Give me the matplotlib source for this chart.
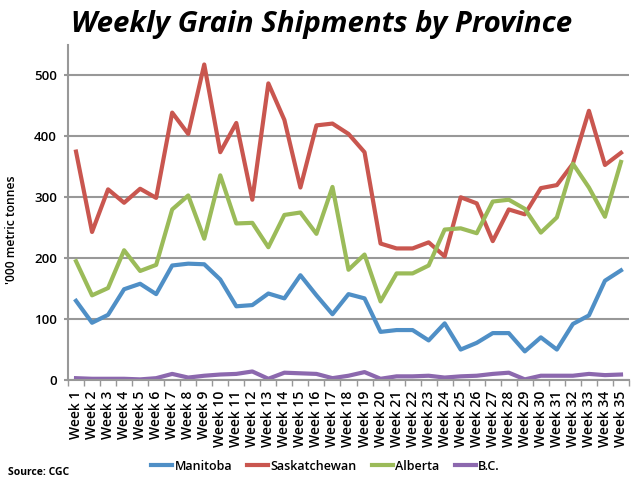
import pandas as pd
import matplotlib.pyplot as plt

plt.rcParams["font.family"] = "Open Sans"

rows = {
    "Manitoba": [130, 94, 107, 149, 158, 141, 188, 191, 190, 165, 121, 123, 142, 134, 172, 139, 108, 141, 134, 79,
                 82, 82, 65, 93, 50, 61, 77, 77, 47, 70, 50, 92, 106, 163, 180],
    "Saskatchewan": [375, 243, 313, 291, 314, 299, 439, 404, 518, 374, 422, 296, 487, 427, 316, 418, 421, 404, 374, 224,
                     216, 216, 226, 203, 300, 290, 228, 280, 272, 315, 320, 355, 442, 353, 373],
    "Alberta": [195, 139, 151, 213, 179, 189, 280, 303, 232, 336, 257, 258, 218, 271, 275, 240, 317, 181, 206, 129,
                175, 175, 188, 247, 249, 241, 293, 296, 281, 242, 267, 355, 316, 268, 358],
    "B.C.": [3, 2, 2, 2, 1, 3, 10, 4, 7, 9, 10, 14, 2, 12, 11, 10, 3, 7, 13, 2,
             6, 6, 7, 4, 6, 7, 10, 12, 1, 7, 7, 7, 10, 8, 9],
}

df = pd.DataFrame(rows)
df["Week"] = ["Week " + str(i + 1) for i in range(len(df))]

plt.figure(figsize=(6.4, 4.8), dpi=100)
plt.axes([68 / 640, 100 / 480, 561 / 640, 335 / 480])
plt.plot(df["Week"], df["Manitoba"], color="#4f8fc6", linewidth=3, label="Manitoba")
plt.plot(df["Week"], df["Saskatchewan"], color="#c9564f", linewidth=3, label="Saskatchewan")
plt.plot(df["Week"], df["Alberta"], color="#9bbb59", linewidth=3, label="Alberta")
plt.plot(df["Week"], df["B.C."], color="#8c68ae", linewidth=3, label="B.C.")

plt.xlim(-0.5, 34.5)
plt.ylim(0, 550)
plt.yticks([0, 100, 200, 300, 400, 500], fontsize=9.5, fontweight="semibold")
plt.xticks(df["Week"], rotation=90, fontsize=10, fontweight="semibold")
plt.grid(True, axis="y", color="#989898", linewidth=1.5)
plt.gca().set_axisbelow(True)

ax = plt.gca()
ax.spines["top"].set_visible(False)
ax.spines["right"].set_visible(False)
ax.spines["left"].set_color("#989898")
ax.spines["left"].set_linewidth(1.5)
ax.spines["bottom"].set_color("#989898")
ax.spines["bottom"].set_linewidth(1.5)
ax.tick_params(axis="y", length=3, width=1.5, color="#989898", pad=5)
ax.set_xticks([i - 0.5 for i in range(36)], minor=True)
ax.tick_params(axis="x", which="minor", length=4, color="#989898", width=1)
ax.tick_params(axis="x", which="major", length=0, pad=8)

plt.legend(loc="lower left", bbox_to_anchor=(151 / 640, 7.5 / 480), bbox_transform=plt.gcf().transFigure, ncol=4,
           frameon=False, prop={"size": 9, "weight": "semibold"}, handlelength=1.68, handletextpad=0.2,
           columnspacing=1.2, borderpad=0, borderaxespad=0)
plt.figtext(322 / 640, 448 / 480, "Weekly Grain Shipments by Province", ha="center", fontsize=21.2,
            fontweight="bold", fontstyle="italic")
plt.figtext(12 / 640, 250 / 480, "'000 metric tonnes", rotation=90, ha="center", va="center", fontsize=8.7,
            fontweight="semibold")
plt.figtext(8 / 640, 5 / 480, "Source: CGC", fontsize=7.5, fontweight="bold")

plt.savefig("out.png", dpi=100)
